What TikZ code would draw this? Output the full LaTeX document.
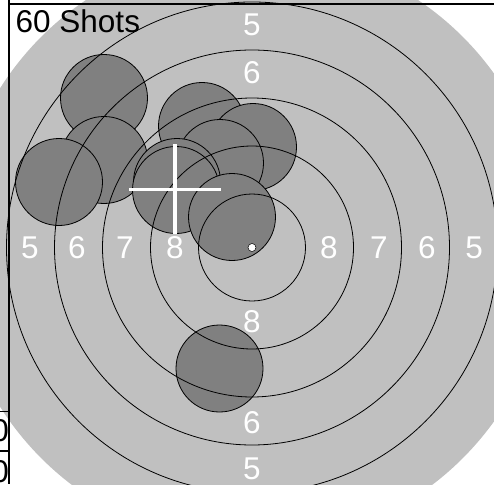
\documentclass[tikz,border=0pt]{standalone}
\usepackage{fontspec}
\setmainfont{Liberation Sans}
\definecolor{targetgray}{RGB}{192,192,192}
\definecolor{shotgray}{RGB}{128,128,128}

\begin{document}
\begin{tikzpicture}[x=1pt,y=-1pt,
	ringline/.style={line width=0.8pt},
	shot/.style={line width=0.8pt,fill=shotgray},
	ringlabel/.style={text=white,inner sep=0pt,font=\fontsize{31.5}{32}\selectfont},
	edgetext/.style={inner sep=0pt,font=\fontsize{31.5}{32}\selectfont},
	cross/.style={line width=3.8pt,white}]
	\clip (0,0) rectangle (494,484);
	
	%Target
	\fill[targetgray] (252,247.5) circle (298);
	
	%Ring numbers
	\node[ringlabel] at (30,247.5) (w5) {5};
	\node[ringlabel] at (77,247.5) (w6) {6};
	\node[ringlabel] at (125,247.5) (w7) {7};
	\node[ringlabel] at (175,247.5) (w8) {8};
	\node[ringlabel] at (329,247.5) (e8) {8};
	\node[ringlabel] at (379,247.5) (e7) {7};
	\node[ringlabel] at (427,247.5) (e6) {6};
	\node[ringlabel] at (474,247.5) (e5) {5};
	\node[ringlabel] at (252,25) (n5) {5};
	\node[ringlabel] at (252,73) (n6) {6};
	\node[ringlabel] at (252,121) (n7) {7};
	\node[ringlabel] at (252,171) (n8) {8};
	\node[ringlabel] at (252,322) (s8) {8};
	\node[ringlabel] at (252,374) (s7) {7};
	\node[ringlabel] at (252,423) (s6) {6};
	\node[ringlabel] at (252,468.5) (s5) {5};
	
	%Shots
	\draw[shot] (104,98) circle (43.5);
	\draw[shot] (104,160) circle (43.5);
	\draw[shot] (59,182) circle (43.5);
	\draw[shot] (202,126) circle (43.5);
	\draw[shot] (253,147) circle (43.5);
	\draw[shot] (220,163) circle (43.5);
	\draw[shot] (177,182) circle (43.5);
	\draw[shot] (176,190) circle (43.5);
	\draw[shot] (232,217) circle (43.5);
	\draw[shot] (219.5,368.5) circle (43.5);
	
	%Rings
	\draw[ringline] (252,247.5) circle (53.5);
	\draw[ringline] (252,247.5) circle (101.5);
	\draw[ringline] (252,247.5) circle (149.5);
	\draw[ringline] (252,247.5) circle (197.5);
	\draw[ringline] (252,247.5) circle (245.5);
	\draw[line width=0.5pt,fill=white] (252,247.5) circle (4);
	
	%Mean point
	\coordinate (xl) at (129,189.5);
	\coordinate (xr) at (221,189.5);
	\coordinate (xt) at (175,144);
	\coordinate (xb) at (175,234);
	\draw[cross] (xl)--(xr);
	\draw[cross] (xt)--(xb);
	
	%Frame
	\draw[line width=1.2pt] (9,0)--(9,484);
	\draw[line width=1.2pt] (9,4)--(494,4);
	\draw[line width=1.2pt] (0,411.5)--(9,411.5);
	\draw[line width=1.2pt] (0,451)--(9,451);
	\node[edgetext,anchor=east] at (9,430.5) (z1) {0};
	\node[edgetext,anchor=east] at (9,472) (z2) {0};
	\node[edgetext,anchor=base west] at (15.5,33) (title) {60 Shots};
	
\end{tikzpicture}
\end{document}
